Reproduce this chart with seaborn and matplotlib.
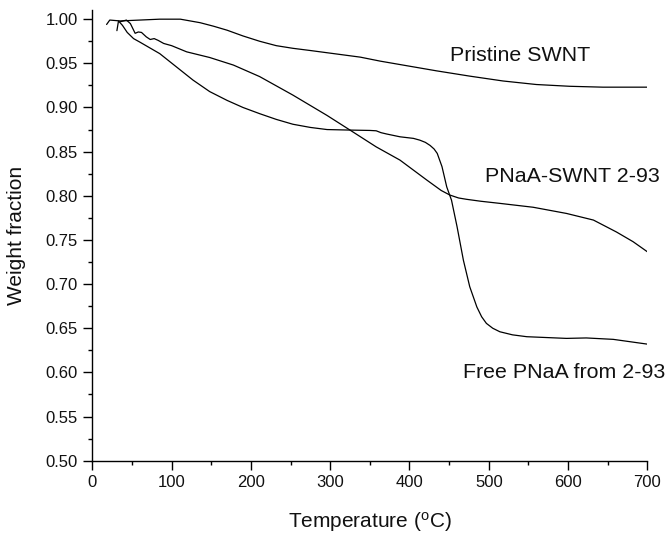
import numpy as np
import pandas as pd
import matplotlib
matplotlib.use("Agg")
import matplotlib.pyplot as plt
from matplotlib.ticker import MultipleLocator
import seaborn as sns

# ---- data ----
pristine_T = [18, 22, 35, 60, 85, 111, 136, 153, 170, 190, 211, 232, 253, 275,
              296, 338, 363, 392, 434, 476, 518, 560, 602, 644, 700]
pristine_w = [0.994, 0.999, 0.998, 0.999, 1.000, 1.000, 0.996, 0.992, 0.9875,
              0.981, 0.975, 0.970, 0.967, 0.9645, 0.962, 0.957, 0.9525, 0.948,
              0.9415, 0.9355, 0.930, 0.926, 0.924, 0.923, 0.923]

composite_T = [35, 43, 48, 54, 58, 62, 68, 73, 78, 83, 90, 100, 119, 148, 178,
               211, 253, 296, 325, 358, 388, 422, 440, 451, 462, 472, 490, 514,
               556, 598, 632, 661, 682, 700]
composite_w = [0.997, 0.999, 0.995, 0.984, 0.9855, 0.985, 0.980, 0.977, 0.978,
               0.976, 0.9725, 0.970, 0.963, 0.9566, 0.948, 0.935, 0.914, 0.891,
               0.8744, 0.8554, 0.8404, 0.8177, 0.806, 0.8008, 0.7975, 0.796,
               0.7938, 0.7914, 0.787, 0.780, 0.7725, 0.759, 0.748, 0.7366]

free_T = [31, 33, 38, 44, 52, 60, 85, 106, 127, 148, 170, 190, 211, 232, 253,
          275, 296, 325, 350, 358, 364, 371, 388, 405, 413, 420, 426, 431, 435,
          441, 447, 453, 460, 468, 476, 485, 491, 497, 505, 514, 530, 548, 598,
          623, 657, 700]
free_w = [0.987, 0.998, 0.993, 0.985, 0.978, 0.974, 0.961, 0.946, 0.931, 0.918,
          0.908, 0.900, 0.893, 0.8865, 0.881, 0.8774, 0.875, 0.8744, 0.874,
          0.8736, 0.8715, 0.870, 0.8668, 0.865, 0.863, 0.8605, 0.857, 0.853,
          0.848, 0.833, 0.810, 0.795, 0.765, 0.727, 0.697, 0.674, 0.663,
          0.6555, 0.650, 0.646, 0.6425, 0.6404, 0.6385, 0.639, 0.6374, 0.632]

labels = ["Pristine SWNT", "PNaA-SWNT 2-93", "Free PNaA from 2-93"]
label_T = [451, 495, 468]
label_w = [0.959, 0.8223, 0.6004]

x_ticks = [0, 100, 200, 300, 400, 500, 600, 700]
y_ticks = [0.50, 0.55, 0.60, 0.65, 0.70, 0.75, 0.80, 0.85, 0.90, 0.95, 1.00]

# ---- style ----
sns.set_theme(style="ticks")
plt.rcParams["font.family"] = ["Liberation Sans", "DejaVu Sans"]
plt.rcParams["mathtext.default"] = "regular"

fig = plt.figure(figsize=(6.7, 5.38), dpi=100)
ax = fig.add_axes([0.1378, 0.1437, 0.8284, 0.8374])

for T, w in [(pristine_T, pristine_w), (composite_T, composite_w), (free_T, free_w)]:
    df = pd.DataFrame({"T": T, "w": w})
    sns.lineplot(data=df, x="T", y="w", ax=ax, color="black", lw=0.9,
                 sort=False, estimator=None)

for txt, t, w in zip(labels, label_T, label_w):
    ax.text(t, w, txt, ha="left", va="center", fontsize=15.4, color="#111111")

ax.set_xlim(0, 700)
ax.set_ylim(0.5, 1.0102)
ax.set_xticks(x_ticks)
ax.set_yticks(y_ticks)
ax.set_yticklabels([f"{v:.2f}" for v in y_ticks])
ax.xaxis.set_minor_locator(MultipleLocator(50))
ax.yaxis.set_minor_locator(MultipleLocator(0.025))
ax.tick_params(which="major", direction="out", length=6.5, width=1.0,
               labelsize=12, color="black", labelcolor="#111111", pad=4)
ax.tick_params(which="minor", direction="out", length=3.2, width=1.0, color="black")

for s in ["top", "right"]:
    ax.spines[s].set_visible(False)
for s in ["left", "bottom"]:
    ax.spines[s].set_linewidth(1.0)
    ax.spines[s].set_color("black")

ax.set_xlabel("Temperature ($^{o}$C)", fontsize=15, color="#111111", labelpad=14)
ax.set_ylabel("Weight fraction", fontsize=15, color="#111111", labelpad=14)

fig.savefig("out.png", dpi=100)
